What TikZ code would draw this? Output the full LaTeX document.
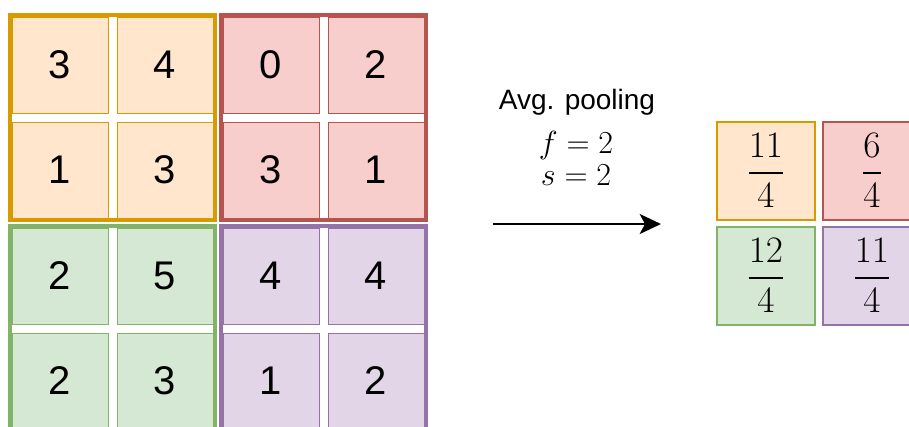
\RequirePackage{fix-cm}
\documentclass[tikz,border=0pt]{standalone}
\usepackage{amsmath}
\usepackage{fontspec}
\setmainfont{Liberation Sans}
\usetikzlibrary{calc, arrows.meta}

\definecolor{OrF}{HTML}{FFE6CC}
\definecolor{OrD}{HTML}{D79B00}
\definecolor{ReF}{HTML}{F8CECC}
\definecolor{ReD}{HTML}{B85450}
\definecolor{GrF}{HTML}{D5E8D4}
\definecolor{GrD}{HTML}{82B366}
\definecolor{PuF}{HTML}{E1D5E7}
\definecolor{PuD}{HTML}{9673A6}

\tikzset{
  group/.style={draw=#1D, line width=3pt, fill=white},
  cell/.style={draw=#1D, fill=#1F, line width=0.75pt, minimum size=72pt,
    inner sep=0pt, font=\fontsize{30}{36}\selectfont},
  outcell/.style={draw=#1D, fill=#1F, line width=1.5pt, minimum size=73.5pt,
    inner sep=0pt, font=\fontsize{28}{34}\selectfont},
  lbl/.style={inner sep=0pt, anchor=base, font=\fontsize{21}{25}\selectfont},
  mlbl/.style={lbl, font=\fontsize{24}{29}\selectfont}
}

\begin{document}
\begin{tikzpicture}[x=0.75pt, y=-0.75pt]
                \useasboundingbox[clip] (0,0) rectangle (909,426);
                % input 4x4, one 2x2 block per colour
                \foreach \gname/\col/\gx/\gy/\a/\b/\c/\d in
                  {or/Or/10/15/3/4/1/3, re/Re/221/15/0/2/3/1,
                   gr/Gr/10/226/2/5/2/3, pu/Pu/221/226/4/4/1/2} {
                  \draw[group=\col] (\gx,\gy) rectangle ++(205,205);
                  \node[cell=\col] (\gname-11) at (\gx+50,\gy+50) {\a};
                  \node[cell=\col] (\gname-12) at (\gx+155,\gy+50) {\b};
                  \node[cell=\col] (\gname-21) at (\gx+50,\gy+155) {\c};
                  \node[cell=\col] (\gname-22) at (\gx+155,\gy+155) {\d};
                }
                % pooling step
                \node[lbl] (title) at (577,109) {Avg. pooling};
                \node[mlbl] (fpar) at (576,153) {$f=2$};
                \node[mlbl] (spar) at (576,185) {$s=2$};
                \coordinate (A) at (493,224);
                \coordinate (B) at (661,224);
                \draw[line width=1.5pt, -{Stealth[length=16pt, width=15pt, inset=4pt]}] (A) -- (B);
                % output 2x2
                \node[outcell=Or] (out-11) at (766,170.5) {$\dfrac{11}{4}$};
                \node[outcell=Re] (out-12) at (872,170.5) {$\dfrac{6}{4}$};
                \node[outcell=Gr] (out-21) at (766,275.5) {$\dfrac{12}{4}$};
                \node[outcell=Pu] (out-22) at (872,275.5) {$\dfrac{11}{4}$};
            \end{tikzpicture}
\end{document}
